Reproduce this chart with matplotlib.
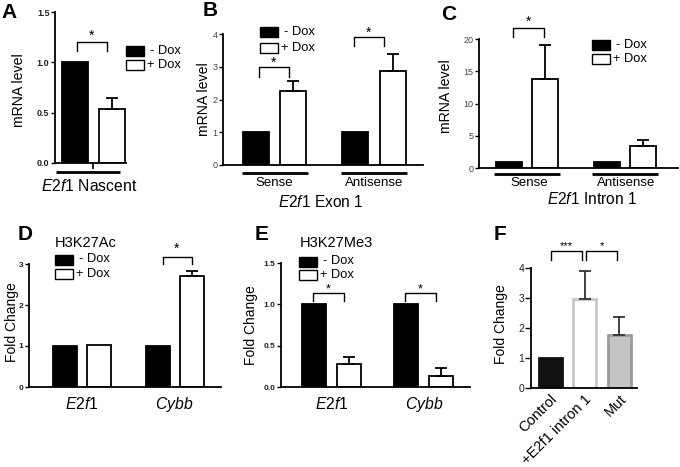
import matplotlib
matplotlib.use("Agg")
import matplotlib.pyplot as plt
from matplotlib.patches import Rectangle
from matplotlib.lines import Line2D
import numpy as np

plt.rcParams['font.family'] = ['Liberation Sans', 'DejaVu Sans']
plt.rcParams['mathtext.fontset'] = 'custom'
plt.rcParams['mathtext.it'] = 'Liberation Sans:italic'
plt.rcParams['mathtext.rm'] = 'Liberation Sans'

# ---------------- data ----------------
a_groups = ['Nascent']
a_minus = [1.0]
a_plus = [0.54]
a_plus_err = [0.11]

b_groups = ['Sense', 'Antisense']
b_minus = [1.0, 1.0]
b_plus = [2.26, 2.86]
b_plus_err = [0.30, 0.53]

c_groups = ['Sense', 'Antisense']
c_minus = [1.0, 1.0]
c_plus = [13.8, 3.4]
c_plus_err = [5.3, 1.0]

d_groups = ['E2f1', 'Cybb']
d_minus = [1.0, 1.0]
d_plus = [1.02, 2.71]
d_plus_err = [0.0, 0.11]

e_groups = ['E2f1', 'Cybb']
e_minus = [1.0, 1.0]
e_plus = [0.28, 0.13]
e_plus_err = [0.08, 0.10]

f_labels = ['Control', '+E2f1 intron 1', 'Mut']
f_vals = [1.0, 2.96, 1.76]
f_err = [0.0, 0.95, 0.62]

legend_labels = ['- Dox', '+ Dox']

# ---------------- layout ----------------
W, H = 680, 467
fig = plt.figure(figsize=(W / 100, H / 100), dpi=100)
LW = 1.3


def fx(x):
    return x / W


def fy(y):
    return 1 - y / H


def add_ax(x0, x1, ytop, ybot, ymax, yticks, fmt, tsize, tweight, tcolor):
    ax = fig.add_axes([fx(x0), fy(ybot), (x1 - x0) / W, (ybot - ytop) / H])
    ax.set_xlim(x0, x1)
    ax.set_ylim(0, ymax)
    for s in ('top', 'right'):
        ax.spines[s].set_visible(False)
    for s in ('left', 'bottom'):
        ax.spines[s].set_linewidth(LW)
    ax.patch.set_alpha(0)
    ax.set_yticks(yticks)
    ax.set_yticklabels([fmt.format(v) for v in yticks], fontsize=tsize,
                       fontweight=tweight, color=tcolor)
    ax.tick_params(axis='y', length=3, width=1.0, pad=1)
    ax.set_xticks([])
    return ax


def fline(xs, ys, lw=LW, color='black'):
    fig.add_artist(Line2D([fx(x) for x in xs], [fy(y) for y in ys],
                          transform=fig.transFigure, lw=lw, color=color,
                          solid_capstyle='butt'))


def ftext(x, y, s, **kw):
    kw.setdefault('ha', 'center')
    kw.setdefault('va', 'center')
    fig.text(fx(x), fy(y), s, **kw)


def legend(x, y1, y2, size=9.3):
    for yy, fc, lab, dx in ((y1, 'black', legend_labels[0], 3), (y2, 'white', legend_labels[1], 0)):
        fig.add_artist(Rectangle((fx(x), fy(yy + 5)), 18 / W, 10 / H,
                                 transform=fig.transFigure, facecolor=fc,
                                 edgecolor='black', lw=1.0))
        ftext(x + 21 + dx, yy, lab, ha='left', fontsize=size)


def pair_bars(ax, centers, off, width, minus, plus, plus_err):
    centers = np.asarray(centers, dtype=float)
    ax.bar(centers - off, minus, width=width, color='black', edgecolor='black', lw=LW, zorder=2)
    ax.bar(centers + off, plus, width=width, color='white', edgecolor='black', lw=LW, zorder=2)
    err = np.asarray(plus_err)
    m = err > 0
    ax.errorbar((centers + off)[m], np.asarray(plus)[m], yerr=[np.zeros(m.sum()), err[m]],
                fmt='none', ecolor='black', elinewidth=LW, capsize=4.5, capthick=LW, zorder=3)
    return centers - off, centers + off


def bracket(ax, x1, x2, ytop, yleg, star='*', ystar=None, size=10):
    ax.plot([x1, x1, x2, x2], [yleg, ytop, ytop, yleg], color='black', lw=1.0, clip_on=False)
    ax.text((x1 + x2) / 2, ystar, star, ha='center', va='center', fontsize=size)


# ---------------- Panel A ----------------
axA = add_ax(55, 126, 12, 163, 1.5, [0, 0.5, 1.0, 1.5], '{:.1f}', 6.5, 'bold', '#222222')
lA, rA = pair_bars(axA, [93], 18.5, 26, a_minus, a_plus, a_plus_err)
bracket(axA, lA[0] + 2, rA[0] - 5, 1.20, 1.11, ystar=1.26)
fline([56, 120], [172, 172], lw=2.0)
fline([93, 93], [163, 169], lw=1.2)
ftext(89, 186, r'$\mathit{E2f1}$ ' + a_groups[0], fontsize=11.3)
ftext(19, 90, 'mRNA level', rotation=90, fontsize=10.2)
legend(126, 51, 65)
ftext(9, 13, 'A', fontsize=15, fontweight='bold')

# ---------------- Panel B ----------------
axB = add_ax(223, 423, 34, 165, 4, [0, 1, 2, 3, 4], '{:d}', 6.5, 'normal', '#444444')
cB = 274.5 + 99.5 * np.arange(len(b_groups))
lB, rB = pair_bars(axB, cB, 18.75, 26, b_minus, b_plus, b_plus_err)
bracket(axB, lB[0] + 3, rB[0] - 4, 2.99, 2.69, ystar=3.12)
bracket(axB, lB[1] - 1, rB[1] - 9, 3.91, 3.63, ystar=4.05)
for c, g in zip(cB, b_groups):
    fline([c - 33, c + 33], [173, 173], lw=2.0)
    ftext(c, 183, g, fontsize=9.5)
ftext(321, 202, r'$\mathit{E2f1}$ Exon 1', fontsize=11.2)
ftext(204, 99, 'mRNA level', rotation=90, fontsize=10.2)
legend(260, 32, 48)
ftext(210, 10, 'B', fontsize=15, fontweight='bold')

# ---------------- Panel C ----------------
axC = add_ax(479, 678, 39, 168, 20, [0, 5, 10, 15, 20], '{:d}', 6.5, 'normal', '#444444')
cC = 527 + 97.5 * np.arange(len(c_groups))
lC, rC = pair_bars(axC, cC, 18, 26, c_minus, c_plus, c_plus_err)
bracket(axC, lC[0] + 4, rC[0] - 1, 21.7, 20.3, ystar=22.6)
for c, g in zip(cC, c_groups):
    fline([c - 33, c + 33], [174, 174], lw=2.0)
    ftext(c + 2, 183, g, fontsize=9.5)
ftext(592, 199, r'$\mathit{E2f1}$ Intron 1', fontsize=11.2)
ftext(446, 96, 'mRNA level', rotation=90, fontsize=10.2)
legend(592, 45, 59)
ftext(449, 15, 'C', fontsize=15, fontweight='bold')

# ---------------- Panel D ----------------
axD = add_ax(29, 221, 264, 387, 3, [0, 1, 2, 3], '{:d}', 6, 'bold', '#222222')
cD = 82 + 92.5 * np.arange(len(d_groups))
lD, rD = pair_bars(axD, cD, 17, 24, d_minus, d_plus, d_plus_err)
bracket(axD, lD[1] + 5, rD[1], 3.17, 3.0, ystar=3.37)
for c, g in zip(cD, d_groups):
    ftext(c, 404, r'$\mathit{' + g + '}$', fontsize=11.3)
ftext(12, 322, 'Fold Change', rotation=90, fontsize=10)
ftext(55, 243, 'H3K27Ac', ha='left', fontsize=10.5)
legend(55, 259.5, 274)
ftext(25, 235, 'D', fontsize=15, fontweight='bold')

# ---------------- Panel E ----------------
axE = add_ax(281, 470, 263, 387, 1.5, [0, 0.5, 1.0, 1.5], '{:.1f}', 6, 'bold', '#222222')
cE = 331 + 92.5 * np.arange(len(e_groups))
lE, rE = pair_bars(axE, cE, 17.5, 24, e_minus, e_plus, e_plus_err)
for i in range(len(e_groups)):
    bracket(axE, lE[i] - 1, rE[i] - 5, 1.137, 1.04, ystar=1.18, size=9)
for c, g in zip(cE, e_groups):
    ftext(c + 1, 404, r'$\mathit{' + g + '}$', fontsize=11.3)
ftext(251, 325, 'Fold Change', rotation=90, fontsize=10)
ftext(300, 243, 'H3K27Me3', ha='left', fontsize=10.5)
legend(299, 261.5, 275)
ftext(262, 235, 'E', fontsize=15, fontweight='bold')

# ---------------- Panel F ----------------
axF = add_ax(531, 637, 268, 388, 4, [0, 1, 2, 3, 4], '{:d}', 7.5, 'normal', '#222222')
axF.tick_params(axis='y', length=4, pad=1)
xF = 550 + 34.5 * np.arange(len(f_vals))
f_face = ['#111111', 'white', '#c4c4c4']
f_edge = ['#111111', '#c8c8c8', '#9a9a9a']
for x, v, fc, ec in zip(xF, f_vals, f_face, f_edge):
    axF.bar(x, v, width=23, color=fc, edgecolor=ec, lw=2.0, zorder=2)
fe = np.asarray(f_err)
m = fe > 0
axF.errorbar(xF[m], np.asarray(f_vals)[m], yerr=[np.zeros(m.sum()), fe[m]], fmt='none',
             ecolor='#333333', elinewidth=LW, capsize=4.5, capthick=LW, zorder=3)
axF.plot([xF[0] + 1, xF[0] + 1, xF[1] - 3, xF[1] - 3], [4.27, 4.57, 4.57, 4.27],
         color='black', lw=1.0, clip_on=False)
axF.text((xF[0] + xF[1]) / 2 - 1, 4.72, '***', ha='center', va='center', fontsize=8)
axF.plot([xF[1] + 1, xF[1] + 1, xF[2] - 2, xF[2] - 2], [4.27, 4.57, 4.57, 4.27],
         color='black', lw=1.0, clip_on=False)
axF.text((xF[1] + xF[2]) / 2, 4.72, '*', ha='center', va='center', fontsize=8)
axF.set_xticks(xF)
axF.set_xticklabels(f_labels, rotation=45, ha='right', rotation_mode='anchor', fontsize=10.5)
axF.tick_params(axis='x', length=0, pad=3)
ftext(501, 324, 'Fold Change', rotation=90, fontsize=10)
ftext(500, 235, 'F', fontsize=15, fontweight='bold')

fig.savefig('out.png', dpi=100)
